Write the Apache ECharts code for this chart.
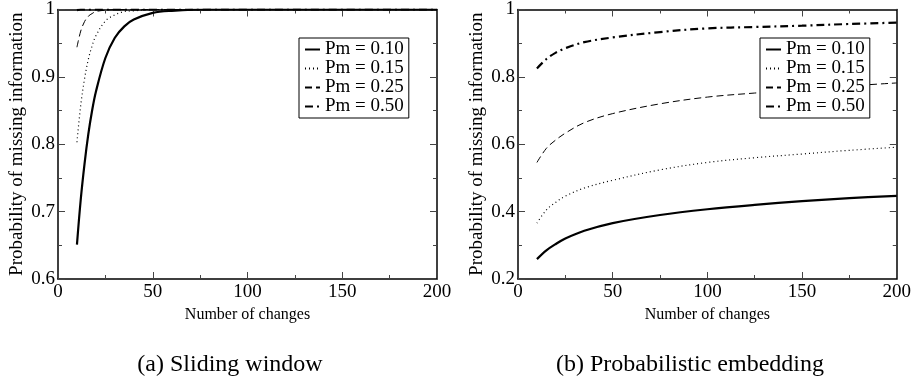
<!DOCTYPE html>
<html><head><meta charset="utf-8">
<script src="https://cdn.jsdelivr.net/npm/echarts@6/dist/echarts.min.js"></script>
<style>html,body{margin:0;padding:0;background:#fff}#c{width:914px;height:388px}</style>
</head><body><div id="c"></div>
<script>
// Data
var seriesNames = ['Pm = 0.10', 'Pm = 0.15', 'Pm = 0.25', 'Pm = 0.50'];
// (a) Sliding window
var xLeft   = [10, 12, 14, 16, 18, 20, 25, 30, 35, 40, 50, 60, 80, 100, 150, 200];
var left10  = [0.651, 0.718, 0.771, 0.815, 0.850, 0.878, 0.928, 0.958, 0.975, 0.985, 0.995, 0.998, 1.000, 1.000, 1.000, 1.000];
var left15  = [0.803, 0.858, 0.897, 0.926, 0.946, 0.961, 0.983, 0.992, 0.997, 0.998, 1.000, 1.000, 1.000, 1.000, 1.000, 1.000];
var left25  = [0.944, 0.968, 0.982, 0.990, 0.994, 0.997, 0.999, 1.000, 1.000, 1.000, 1.000, 1.000, 1.000, 1.000, 1.000, 1.000];
var left50  = [0.999, 1.000, 1.000, 1.000, 1.000, 1.000, 1.000, 1.000, 1.000, 1.000, 1.000, 1.000, 1.000, 1.000, 1.000, 1.000];
// (b) Probabilistic embedding
var xRight  = [10, 15, 20, 25, 35, 50, 75, 100, 125, 150, 175, 200];
var right10 = [0.259, 0.285, 0.304, 0.320, 0.343, 0.366, 0.390, 0.407, 0.420, 0.431, 0.440, 0.447];
var right15 = [0.366, 0.405, 0.428, 0.446, 0.470, 0.493, 0.524, 0.546, 0.560, 0.571, 0.582, 0.591];
var right25 = [0.546, 0.588, 0.613, 0.633, 0.664, 0.691, 0.720, 0.740, 0.752, 0.762, 0.773, 0.782];
var right50 = [0.825, 0.853, 0.872, 0.885, 0.903, 0.917, 0.933, 0.944, 0.948, 0.952, 0.957, 0.961];
var yTicksLeft  = {min: 0.6, max: 1, interval: 0.1};
var yTicksRight = {min: 0.2, max: 1, interval: 0.2};
var xTicks = {min: 0, max: 200, interval: 50};

var FONT = 'Liberation Serif';
function zip(xs, ys) { return xs.map(function (x, i) { return [x, ys[i]]; }); }
function yFmt(v) { return Math.abs(v - 1) < 1e-9 ? '1' : v.toFixed(1); }

var styles = [
  {width: 2.2, type: 'solid'},
  {width: 1.2, type: [1, 3]},
  {width: 1, type: [7, 4]},
  {width: 2.2, type: [8, 4, 2, 4]}
];

var grids = [
  {left: 58, top: 4, width: 379, height: 275},
  {left: 518, top: 4, width: 380, height: 275}
];

function xAxes(gi) {
  var base = {
    type: 'value', gridIndex: gi, min: xTicks.min, max: xTicks.max, interval: xTicks.interval,
    splitLine: {show: false},
    axisLine: {show: true, onZero: false, lineStyle: {color: '#000', width: 1.5}},
    axisTick: {show: true, inside: true, length: 7, lineStyle: {color: '#444', width: 1}},
    minorTick: {show: true, splitNumber: 2, length: 4, lineStyle: {color: '#444', width: 1}}
  };
  var bottom = Object.assign({}, base, {
    position: 'bottom',
    axisLabel: {color: '#000', fontFamily: FONT, fontSize: 19, margin: 4},
    name: 'Number of changes', nameLocation: 'middle', nameGap: 18,
    nameTextStyle: {color: '#000', fontFamily: FONT, fontSize: 16}
  });
  var top = Object.assign({}, base, {position: 'top', axisLabel: {show: false}});
  return [bottom, top];
}
function yAxes(gi, t) {
  var base = {
    type: 'value', gridIndex: gi, min: t.min, max: t.max, interval: t.interval,
    splitLine: {show: false},
    axisLine: {show: true, onZero: false, lineStyle: {color: '#000', width: 1.5}},
    axisTick: {show: true, inside: true, length: 7, lineStyle: {color: '#444', width: 1}},
    minorTick: {show: true, splitNumber: 2, length: 4, lineStyle: {color: '#444', width: 1}}
  };
  var left = Object.assign({}, base, {
    position: 'left',
    axisLabel: {color: '#000', fontFamily: FONT, fontSize: 19, margin: 3, formatter: yFmt},
    name: 'Probability of missing information', nameLocation: 'middle', nameGap: 31,
    nameTextStyle: {color: '#000', fontFamily: FONT, fontSize: 19}
  });
  var right = Object.assign({}, base, {position: 'right', axisLabel: {show: false}});
  return [left, right];
}

var xa = xAxes(0).concat(xAxes(1));
var ya = yAxes(0, yTicksLeft).concat(yAxes(1, yTicksRight));

var leftData = [left10, left15, left25, left50];
var rightData = [right10, right15, right25, right50];
var series = [];
[0, 1].forEach(function (gi) {
  var xs = gi === 0 ? xLeft : xRight;
  var dd = gi === 0 ? leftData : rightData;
  seriesNames.forEach(function (nm, k) {
    series.push({
      type: 'line', name: nm, xAxisIndex: gi * 2, yAxisIndex: gi * 2,
      data: zip(xs, dd[k]), showSymbol: false, symbol: 'none',
      smooth: 0.35,
      lineStyle: {color: '#000', width: styles[k].width, type: styles[k].type},
      itemStyle: {color: '#000'}, silent: true, animation: false
    });
  });
});

function legend(left) {
  return {
    left: left, top: 38, orient: 'vertical', data: seriesNames,
    backgroundColor: '#fff', borderColor: '#000', borderWidth: 1,
    padding: [2, 5, 2, 5], itemGap: 0, itemWidth: 15, itemHeight: 14,
    itemStyle: {opacity: 0},
    textStyle: {color: '#000', fontFamily: FONT, fontSize: 19, lineHeight: 17},
    selectedMode: false
  };
}

var chart = echarts.init(document.getElementById('c'), null, {renderer: 'canvas'});
chart.setOption({
  animation: false,
  backgroundColor: '#fff',
  grid: grids,
  xAxis: xa,
  yAxis: ya,
  legend: [legend(299), legend(760)],
  series: series,
  graphic: [
    {type: 'text', x: 230, y: 353, style: {text: '(a) Sliding window', fill: '#000', font: '24px "Liberation Serif"', textAlign: 'center'}},
    {type: 'text', x: 690, y: 353, style: {text: '(b) Probabilistic embedding', fill: '#000', font: '24px "Liberation Serif"', textAlign: 'center'}}
  ]
});
</script></body></html>
